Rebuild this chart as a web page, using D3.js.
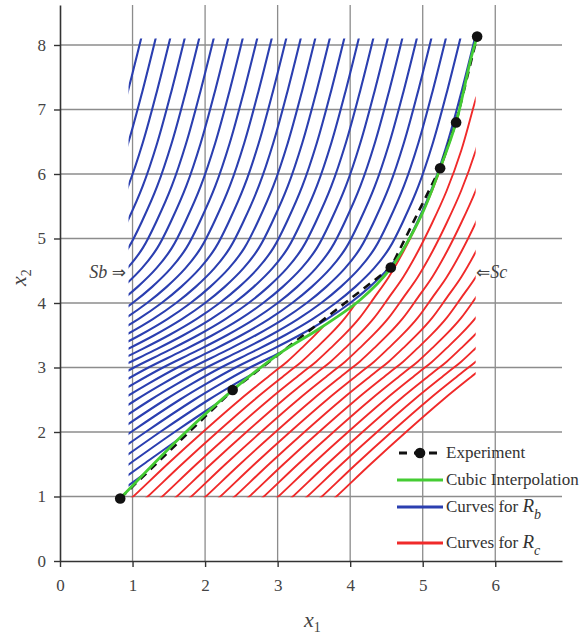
<!DOCTYPE html>
<html><head><meta charset="utf-8">
<script src="https://cdn.jsdelivr.net/npm/d3@7"></script>
<style>body{margin:0;background:#fff}svg{display:block}
svg text{font-family:"Liberation Serif","Tinos","DejaVu Serif","Noto Serif","Times New Roman",Times,serif}</style>
</head><body>
<svg id="c" width="583" height="641"></svg>
<script>
// ---------- data ----------
const xTicks = [0, 1, 2, 3, 4, 5, 6];
const yTicks = [0, 1, 2, 3, 4, 5, 6, 7, 8];
const experimentX = [0.83, 2.38, 4.56, 5.24, 5.46, 5.75];
const experimentY = [0.97, 2.65, 4.55, 6.09, 6.80, 8.13];
const cubicX = [0.83, 1.66, 2.38, 3.03, 3.60, 4.14, 4.56, 4.97, 5.24, 5.46, 5.66, 5.75];
const cubicY = [0.97, 1.92, 2.65, 3.22, 3.62, 4.05, 4.54, 5.33, 6.09, 6.80, 7.77, 8.13];
// master shape of the Rb curve family (the curve that reaches the top at x=1.12)
const blueShapeX = [1.14, 0.94, 0.74, 0.54, 0.34, 0.14, -0.07, -0.33, -0.60, -0.92, -1.30, -1.73, -2.18, -2.58, -2.95, -3.62, -4.25, -4.87, -5.00];
const blueShapeY = [8.20, 7.30, 6.48, 5.81, 5.29, 4.85, 4.54, 4.25, 4.00, 3.75, 3.50, 3.25, 3.00, 2.75, 2.50, 2.00, 1.50, 1.00, 0.90];
const blueShifts = [0, 0.2, 0.4, 0.6, 0.8, 1.0, 1.2, 1.4, 1.6, 1.8, 2.0, 2.2, 2.4, 2.6, 2.8, 3.0, 3.2, 3.4, 3.6, 3.8, 4.0, 4.2, 4.4, 4.6, 4.8, 5.0, 5.2, 5.4, 5.6];
// master shape of the Rc curve family (the curve that reaches the right edge at y=7.16)
const redShapeX = [5.95, 5.73, 5.53, 5.33, 5.13, 4.93, 4.73, 4.53, 4.33, 4.13, 3.93, 3.73, 3.53, 3.08, 2.57, 2.08, 1.61, 1.48];
const redShapeY = [8.00, 7.16, 6.36, 5.74, 5.24, 4.79, 4.40, 4.08, 3.77, 3.52, 3.30, 3.09, 2.91, 2.50, 2.00, 1.50, 1.00, 0.87];
const redShifts = [-0.6, -0.4, -0.2, 0, 0.2, 0.4, 0.6, 0.8, 1.0, 1.2, 1.4, 1.6, 1.8, 2.0, 2.2];
const boundLeft = 0.945, boundTop = 8.10, boundRight = 5.73, boundBottom = 0.99, redTop = 7.20;
const legendItems = ["Experiment", "Cubic Interpolation", "Curves for R|b", "Curves for R|c"];

// ---------- scales ----------
const svg = d3.select("#c");
const x = d3.scaleLinear().domain([0, 6.92]).range([60, 562]);
const y = d3.scaleLinear().domain([0, 8.62]).range([561, 5]);
const serif = '"Liberation Serif","Tinos","DejaVu Serif","Noto Serif","Times New Roman",Times,serif';

// grid
const grid = svg.append("g").attr("stroke", "#8c8c8c").attr("stroke-width", 1.3);
grid.selectAll(".gx").data(xTicks.filter(d => d > 0)).join("line")
  .attr("x1", d => x(d)).attr("x2", d => x(d)).attr("y1", y(0)).attr("y2", y(8.62));
grid.selectAll(".gy").data(yTicks.filter(d => d > 0)).join("line")
  .attr("y1", d => y(d)).attr("y2", d => y(d)).attr("x1", x(0)).attr("x2", x(6.92));

// axes
const ax = svg.append("g").attr("transform", `translate(0,${y(0)})`)
  .call(d3.axisBottom(x).tickValues(xTicks).tickFormat(d3.format("d")).tickSizeInner(6).tickSizeOuter(0).tickPadding(12));
const ay = svg.append("g").attr("transform", `translate(${x(0)},0)`)
  .call(d3.axisLeft(y).tickValues(yTicks).tickFormat(d3.format("d")).tickSizeInner(6).tickSizeOuter(0).tickPadding(8));
[ax, ay].forEach(a => {
  a.attr("font-family", null);
  a.select(".domain").attr("stroke", "#333").attr("stroke-width", 1.6);
  a.selectAll(".tick line").attr("stroke", "#333").attr("stroke-width", 1.4);
  a.selectAll("text").style("font-family", serif).attr("font-size", 17).attr("fill", "#444");
});

// clip paths
const defs = svg.append("defs");
const pts = cubicX.map((v, i) => [v, cubicY[i]]);
const lineG = d3.line().x(d => x(d[0])).y(d => y(d[1])).curve(d3.curveCatmullRom.alpha(0.5));
const gPath = lineG(pts);
const gTop = pts[pts.length - 1], gBot = pts[0];
defs.append("clipPath").attr("id", "leftOfGreen").append("path")
  .attr("d", gPath + `L${x(gTop[0])},${y(9)}L${x(-1)},${y(9)}L${x(-1)},${y(-1)}L${x(gBot[0])},${y(-1)}Z`);
defs.append("clipPath").attr("id", "rightOfGreen").append("path")
  .attr("d", gPath + `L${x(gTop[0])},${y(9)}L${x(8)},${y(9)}L${x(8)},${y(-1)}L${x(gBot[0])},${y(-1)}Z`);
defs.append("clipPath").attr("id", "blueBox").append("rect")
  .attr("x", x(boundLeft)).attr("y", y(boundTop)).attr("width", x(8) - x(boundLeft)).attr("height", y(-1) - y(boundTop));
defs.append("clipPath").attr("id", "redBox").append("rect")
  .attr("x", x(-1)).attr("y", y(redTop)).attr("width", x(boundRight) - x(-1)).attr("height", y(boundBottom) - y(redTop));

const curveLine = d3.line().x(d => x(d[0])).y(d => y(d[1])).curve(d3.curveCatmullRom.alpha(0.5));

// blue family
const blueShape = blueShapeX.map((v, i) => [v, blueShapeY[i]]);
svg.append("g").attr("clip-path", "url(#blueBox)")
  .append("g").attr("clip-path", "url(#leftOfGreen)")
  .selectAll("path").data(blueShifts).join("path")
  .attr("d", s => curveLine(blueShape.map(p => [p[0] + s, p[1]])))
  .attr("fill", "none").attr("stroke", "#2b3fb0").attr("stroke-width", 2.1);

// red family
const redShape = redShapeX.map((v, i) => [v, redShapeY[i]]);
svg.append("g").attr("clip-path", "url(#redBox)")
  .append("g").attr("clip-path", "url(#rightOfGreen)")
  .selectAll("path").data(redShifts).join("path")
  .attr("d", s => curveLine(redShape.map(p => [p[0] + s, p[1]])))
  .attr("fill", "none").attr("stroke", "#f02a2a").attr("stroke-width", 1.9);

// experiment dashed
const exp = experimentX.map((v, i) => [v, experimentY[i]]);
svg.append("path").attr("d", d3.line().x(d => x(d[0])).y(d => y(d[1]))(exp))
  .attr("fill", "none").attr("stroke", "#111").attr("stroke-width", 2.6).attr("stroke-dasharray", "8,6");
// cubic interpolation
svg.append("path").attr("d", gPath).attr("fill", "none").attr("stroke", "#44cc33").attr("stroke-width", 2.8);
svg.selectAll(".dot").data(exp).join("circle")
  .attr("cx", d => x(d[0])).attr("cy", d => y(d[1])).attr("r", 5.3).attr("fill", "#111");

// Sb / Sc labels
const arrowFont = '"DejaVu Sans","Noto Sans",sans-serif';
const sb = svg.append("text").attr("x", 126).attr("y", 278).attr("text-anchor", "end")
  .style("font-family", serif).attr("font-size", 18).attr("fill", "#444");
sb.append("tspan").attr("font-style", "italic").text("Sb ");
sb.append("tspan").style("font-family", arrowFont).attr("font-size", 17).text("\u21D2");
const sc = svg.append("text").attr("x", 476).attr("y", 278)
  .style("font-family", serif).attr("font-size", 18).attr("fill", "#444");
sc.append("tspan").style("font-family", arrowFont).attr("font-size", 17).text("\u21D0");
sc.append("tspan").attr("font-style", "italic").text("Sc");

// axis titles
const xt = svg.append("text").attr("x", 304).attr("y", 627).style("font-family", serif).attr("font-size", 22).attr("fill", "#444");
xt.append("tspan").attr("font-style", "italic").text("x");
xt.append("tspan").attr("font-size", 14).attr("dy", 5).text("1");
const yt = svg.append("text").attr("transform", "translate(26,286) rotate(-90)").style("font-family", serif).attr("font-size", 22).attr("fill", "#444");
yt.append("tspan").attr("font-style", "italic").text("x");
yt.append("tspan").attr("font-size", 14).attr("dy", 5).text("2");

// legend
const legY = [453, 480, 507, 543];
const legColors = ["#111", "#44cc33", "#2b3fb0", "#f02a2a"];
const lg = svg.append("g");
legendItems.forEach((t, i) => {
  const ly = legY[i];
  const l = lg.append("line").attr("x1", 397).attr("x2", 443).attr("y1", ly).attr("y2", ly)
    .attr("stroke", legColors[i]).attr("stroke-width", i === 0 ? 3 : 3.2);
  if (i === 0) {
    l.attr("stroke-dasharray", "8,7").attr("stroke-dashoffset", -2);
    lg.append("circle").attr("cx", 420).attr("cy", ly).attr("r", 5.3).attr("fill", "#111");
  }
  const tx = lg.append("text").attr("x", 446).attr("y", ly + 5).style("font-family", serif)
    .attr("font-size", 17).attr("fill", "#333");
  const parts = t.split("|");
  if (parts.length === 1) tx.text(t);
  else {
    tx.append("tspan").text(parts[0].slice(0, -1));
    tx.append("tspan").attr("font-style", "italic").attr("font-size", 19).text(parts[0].slice(-1));
    tx.append("tspan").attr("font-style", "italic").attr("font-size", 14).attr("dy", 7).text(parts[1]);
  }
});
</script>
</body></html>
